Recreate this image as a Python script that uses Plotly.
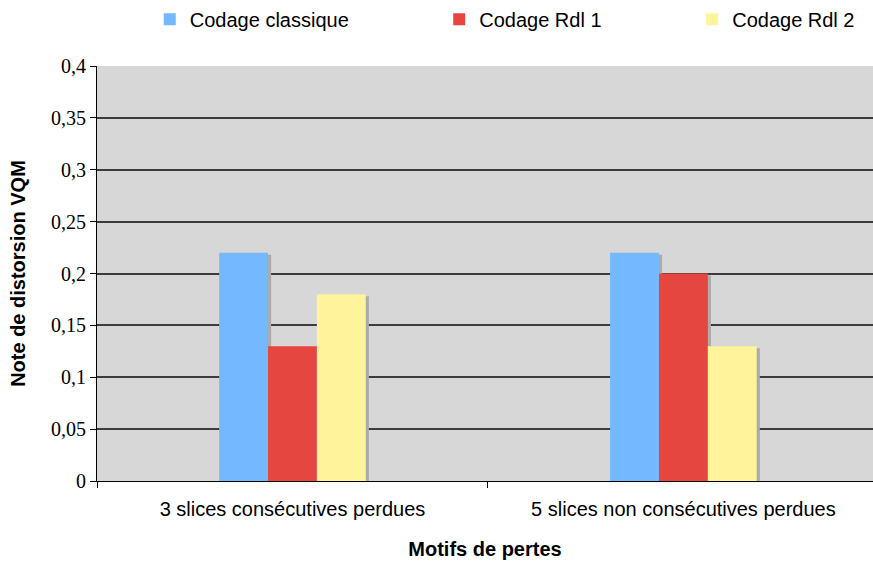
import plotly.graph_objects as go

# Data
categories = ["3 slices consécutives perdues", "5 slices non consécutives perdues"]
series_names = ["Codage classique", "Codage Rdl 1", "Codage Rdl 2"]
codage_classique = [0.22, 0.22]
codage_rdl1 = [0.13, 0.20]
codage_rdl2 = [0.18, 0.13]
y_tick_vals = [0, 0.05, 0.1, 0.15, 0.2, 0.25, 0.3, 0.35, 0.4]
y_tick_text = ["0", "0,05", "0,1", "0,15", "0,2", "0,25", "0,3", "0,35", "0,4"]

colors = ["#74b9ff", "#e5463f", "#fff39b"]
values = [codage_classique, codage_rdl1, codage_rdl2]
legend_ids = ["legend", "legend2", "legend3"]
legend_x = [0.068, 0.441, 0.767]

bar_w = 0.125
offsets = [-0.1875, -0.0625, 0.0625]
shadow_dx = 0.008
shadow_dy = 0.002

fig = go.Figure()

# drop shadows behind the bars
for vals, off in zip(values, offsets):
    fig.add_trace(go.Bar(
        x=categories, y=[v - shadow_dy for v in vals],
        width=bar_w, offset=off + shadow_dx,
        marker=dict(color="#ababab", line=dict(width=0)),
        showlegend=False, hoverinfo="skip",
    ))

for name, vals, off, col, lg in zip(series_names, values, offsets, colors, legend_ids):
    fig.add_trace(go.Bar(
        x=categories, y=vals, name=name,
        width=bar_w, offset=off,
        marker=dict(color=col, line=dict(width=0)),
        legend=lg,
    ))

legend_style = dict(
    orientation="h", xanchor="left",
    yref="container", y=0.966, yanchor="middle",
    font=dict(size=20), itemwidth=30, bgcolor="rgba(0,0,0,0)",
)

fig.update_layout(
    width=873, height=565,
    margin=dict(l=97, r=0, t=66, b=84),
    paper_bgcolor="white",
    plot_bgcolor="#d7d7d7",
    barmode="overlay",
    font=dict(family="Liberation Sans, Arial, sans-serif", size=20, color="black"),
    legend=dict(x=legend_x[0], **legend_style),
    legend2=dict(x=legend_x[1], **legend_style),
    legend3=dict(x=legend_x[2], **legend_style),
    xaxis=dict(
        type="category", range=[-0.5, 1.485],
        tickson="boundaries", ticks="outside", ticklen=6, tickcolor="black",
        ticklabelstandoff=10,
        showline=True, linecolor="black", linewidth=1,
        showgrid=False,
        tickfont=dict(size=20),
        title=dict(text="<b>Motifs de pertes</b>", font=dict(size=20), standoff=22),
    ),
    yaxis=dict(
        range=[0, 0.4],
        tickvals=y_tick_vals, ticktext=y_tick_text,
        ticks="outside", ticklen=6, tickcolor="black",
        showline=True, linecolor="black", linewidth=1,
        showgrid=True, gridcolor="#3c3c3c", gridwidth=1.5,
        zeroline=False,
        tickfont=dict(family="Liberation Serif", size=20),
        title=dict(text="<b>Note de distorsion VQM</b>", font=dict(size=20), standoff=20),
    ),
)

fig.write_html("out.html")
